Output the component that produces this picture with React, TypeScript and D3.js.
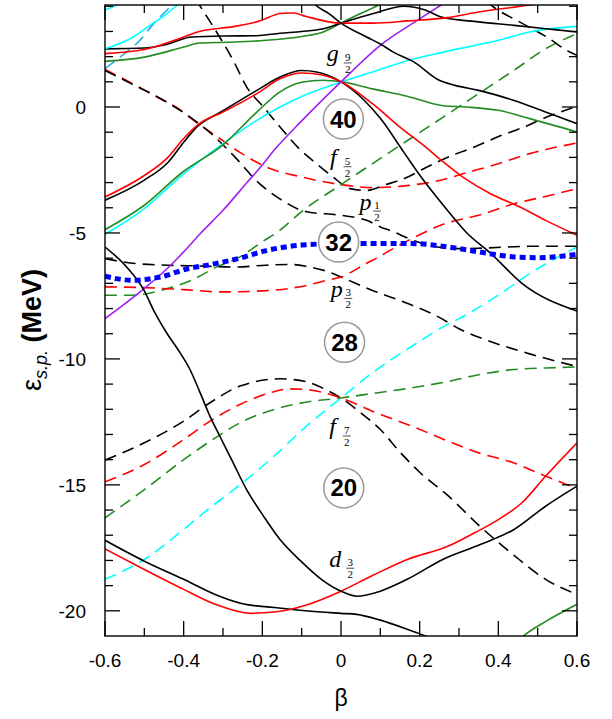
import React from "react"
import * as d3 from "d3"

// Nilsson single-particle levels, each point is [beta, energy in MeV]
// positive parity (solid lines)
const g92Black = [[-0.6,-3.7],[-0.5,-2.9],[-0.44,-2.2],[-0.4,-1.4],[-0.367,-0.8],[-0.3,-0.15],[-0.214,0.66],[-0.155,1.19],[-0.1,1.45],[-0.062,1.39],[0,1.0],[0.057,0.3],[0.1,-0.45],[0.16,-1.8],[0.2,-2.7],[0.26,-3.9],[0.32,-5.0],[0.38,-5.8],[0.46,-7.0],[0.6,-8.1]]
const g92Red = [[-0.6,-3.57],[-0.5,-2.72],[-0.44,-2.0],[-0.4,-1.25],[-0.36,-0.66],[-0.3,-0.2],[-0.214,0.53],[-0.155,1.12],[-0.1,1.35],[-0.045,1.26],[0,1.0],[0.08,0.13],[0.15,-0.8],[0.22,-1.65],[0.25,-2.05],[0.31,-2.78],[0.38,-3.44],[0.455,-3.97],[0.52,-4.5],[0.6,-5.09]]
const g92Green = [[-0.6,-4.87],[-0.5,-3.9],[-0.4,-2.55],[-0.3,-1.5],[-0.214,-0.2],[-0.155,0.6],[-0.1,0.98],[-0.045,1.06],[0,1.0],[0.08,0.72],[0.17,0.42],[0.26,0.05],[0.32,0.0],[0.4,-0.13],[0.48,-0.46],[0.6,-0.99]]
const g92Cyan = [[-0.6,-5.05],[-0.5,-4.03],[-0.4,-2.65],[-0.3,-1.45],[-0.214,-0.53],[-0.155,0.0],[-0.1,0.42],[0,0.99],[0.08,1.39],[0.17,1.85],[0.26,2.18],[0.4,2.65],[0.48,2.98],[0.6,3.2]]
const g92Purple = [[-0.6,-8.4],[-0.5,-7.2],[-0.433,-6.28],[-0.4,-5.75],[-0.358,-5.03],[-0.3,-4.1],[-0.239,-3.0],[-0.2,-2.3],[-0.172,-1.75],[-0.1,-0.55],[0,1.0],[0.1,2.45],[0.2,3.5],[0.28,4.3]]
const d52Black = [[-0.6,2.31],[-0.5,2.34],[-0.44,2.5],[-0.38,2.78],[-0.3,2.82],[-0.214,2.83],[-0.155,2.93],[-0.1,3.0],[-0.045,3.11],[0,3.33],[0.08,3.7],[0.16,4.0],[0.21,3.87],[0.26,3.55],[0.35,3.38],[0.44,3.24],[0.52,3.11],[0.6,2.98]]
const d52Red = [[-0.6,2.12],[-0.5,2.28],[-0.4,2.78],[-0.36,3.0],[-0.27,3.2],[-0.21,3.4],[-0.15,3.72],[-0.12,3.73],[-0.09,3.6],[0,3.33],[0.08,3.33],[0.17,3.42],[0.27,3.55],[0.35,3.77],[0.48,4.05],[0.52,4.15]]
const d52Green = [[-0.6,1.81],[-0.5,1.98],[-0.4,2.38],[-0.36,2.54],[-0.27,2.58],[-0.19,2.65],[-0.1,2.8],[-0.045,2.98],[0,3.33],[0.04,3.64],[0.095,4.05],[0.12,4.3]]
const s12Black = [[-0.08,4.3],[-0.065,4.05],[-0.03,3.7],[0,3.33],[0.065,2.78],[0.1,2.5],[0.133,2.18],[0.184,1.8],[0.25,1.06],[0.29,0.86],[0.35,0.66],[0.44,0.26],[0.52,-0.2],[0.6,-0.66]]
const cyanTop = [[-0.6,2.31],[-0.528,2.78],[-0.486,3.24],[-0.443,3.7],[-0.42,4.0],[-0.4,4.3]]
const cyanCorner = [[-0.6,3.85],[-0.57,4.05],[-0.55,4.2]]
const d32Black = [[-0.6,-17.2],[-0.5,-18.03],[-0.4,-18.75],[-0.32,-19.35],[-0.25,-19.72],[-0.17,-19.87],[-0.09,-20.0],[0,-20.1],[0.04,-20.14],[0.1,-20.37],[0.17,-20.74],[0.22,-21.03],[0.25,-21.2]]
const d32Red = [[-0.6,-17.54],[-0.5,-18.36],[-0.4,-19.15],[-0.32,-19.74],[-0.23,-20.1],[-0.17,-20.05],[-0.13,-19.95],[-0.09,-19.78],[0,-19.22],[0.08,-18.6],[0.17,-17.95],[0.27,-17.45],[0.34,-16.9],[0.4,-16.38],[0.46,-15.71],[0.52,-14.66],[0.6,-13.33]]
const steepBlack = [[-0.6,-5.56],[-0.545,-6.35],[-0.5,-7.3],[-0.477,-8.05],[-0.443,-8.97],[-0.409,-9.76],[-0.384,-10.42],[-0.358,-11.35],[-0.333,-12.28],[-0.308,-13.07],[-0.274,-14.13],[-0.24,-15.19],[-0.197,-16.24],[-0.155,-17.17],[-0.104,-18.0],[-0.05,-18.75],[0,-19.22],[0.04,-19.42],[0.1,-19.22],[0.167,-18.76],[0.26,-17.95],[0.354,-17.37],[0.44,-16.77],[0.52,-15.85],[0.6,-15.05]]
const greenLow = [[0.45,-21.2],[0.464,-21.0],[0.523,-20.4],[0.6,-19.74]]

// negative parity (dashed lines)
const f52Black = [[-0.37,4.3],[-0.358,4.0],[-0.324,3.17],[-0.274,1.85],[-0.24,0.8],[-0.197,0.0],[-0.155,-0.79],[-0.1,-1.75],[-0.07,-2.15],[-0.02,-2.78],[0.023,-3.24],[0.065,-3.31],[0.11,-3.1],[0.17,-2.78],[0.21,-2.45],[0.294,-1.85],[0.345,-1.55],[0.396,-1.2],[0.455,-0.86],[0.523,-0.4],[0.6,0.03]]
const f52Red = [[-0.6,1.49],[-0.53,0.93],[-0.46,0.33],[-0.42,0.0],[-0.36,-0.7],[-0.32,-1.12],[-0.257,-1.8],[-0.19,-2.38],[-0.1,-2.78],[0,-3.08],[0.08,-3.2],[0.167,-3.12],[0.26,-2.88],[0.31,-2.65],[0.4,-2.25],[0.48,-1.85],[0.6,-1.43]]
const f52Green = [[-0.6,-7.47],[-0.53,-7.47],[-0.49,-7.4],[-0.44,-7.2],[-0.38,-6.88],[-0.325,-6.42],[-0.257,-5.95],[-0.2,-5.35],[-0.155,-4.89],[-0.1,-4.15],[0,-3.08],[0.08,-2.25],[0.17,-1.32],[0.26,-0.4],[0.35,0.53],[0.44,1.46],[0.52,2.31],[0.6,2.91]]
const p12Black = [[-0.6,1.45],[-0.53,0.9],[-0.45,0.26],[-0.39,-0.33],[-0.33,-1.06],[-0.27,-1.98],[-0.21,-3.0],[-0.15,-3.7],[-0.09,-4.15],[0,-4.3],[0.065,-4.5],[0.1,-4.76],[0.125,-4.9],[0.19,-5.33],[0.25,-5.57],[0.3,-5.62],[0.36,-5.6],[0.48,-5.53],[0.6,-5.53]]
const p32Black = [[-0.6,-6.02],[-0.53,-6.2],[-0.44,-6.28],[-0.36,-6.31],[-0.27,-6.35],[-0.19,-6.28],[-0.13,-6.25],[-0.087,-6.33],[-0.04,-6.5],[0,-6.75],[0.08,-7.28],[0.17,-7.8],[0.25,-8.35],[0.3,-8.8],[0.37,-9.25],[0.48,-9.8],[0.6,-10.3]]
const p32Red = [[-0.6,-7.14],[-0.5,-7.17],[-0.4,-7.25],[-0.3,-7.34],[-0.2,-7.3],[-0.13,-7.2],[-0.087,-7.08],[-0.036,-6.88],[0,-6.75],[0.065,-6.2],[0.1,-5.92],[0.125,-5.69],[0.19,-5.15],[0.26,-4.65],[0.35,-4.3],[0.44,-3.84],[0.52,-3.55],[0.6,-3.24]]
const f72Black = [[-0.6,-14.02],[-0.5,-13.33],[-0.4,-12.47],[-0.333,-11.74],[-0.257,-11.08],[-0.155,-10.79],[-0.09,-10.9],[-0.036,-11.24],[0,-11.55],[0.05,-12.14],[0.1,-12.8],[0.15,-13.7],[0.2,-14.5],[0.27,-15.4],[0.35,-16.6],[0.44,-17.8],[0.52,-18.75],[0.6,-19.35]]
const f72Red = [[-0.6,-14.88],[-0.5,-14.19],[-0.4,-13.2],[-0.333,-12.47],[-0.257,-11.81],[-0.17,-11.3],[-0.13,-11.19],[-0.087,-11.22],[0,-11.55],[0.09,-12.14],[0.18,-12.67],[0.27,-13.25],[0.35,-13.73],[0.44,-14.13],[0.5,-14.52],[0.6,-15.15]]
const f72Green = [[-0.6,-16.31],[-0.5,-15.19],[-0.4,-14.0],[-0.333,-13.27],[-0.257,-12.54],[-0.155,-11.94],[-0.09,-11.72],[0,-11.55],[0.09,-11.35],[0.18,-11.15],[0.27,-10.9],[0.35,-10.63],[0.44,-10.42],[0.52,-10.36],[0.6,-10.32]]
const f72Cyan = [[-0.6,-18.75],[-0.5,-17.96],[-0.4,-16.77],[-0.333,-15.91],[-0.257,-15.0],[-0.17,-13.86],[-0.09,-12.7],[0,-11.55],[0.08,-10.55],[0.17,-9.6],[0.27,-8.64],[0.3,-8.4],[0.4,-7.47],[0.48,-6.61],[0.6,-5.56]]
const topRightBlack = [[0.37,4.2],[0.388,3.97],[0.455,3.37],[0.523,2.78],[0.574,2.25],[0.6,2.05]]
const skyDash = [[-0.6,1.52],[-0.562,1.98],[-0.511,2.65],[-0.473,3.37],[-0.447,3.77],[-0.43,4.05],[-0.42,4.2]]

// Fermi level
const fermi = [[-0.6,-6.72],[-0.53,-6.88],[-0.46,-6.75],[-0.39,-6.42],[-0.33,-6.25],[-0.257,-6.0],[-0.19,-5.7],[-0.1,-5.48],[0,-5.42],[0.1,-5.42],[0.18,-5.42],[0.27,-5.55],[0.35,-5.75],[0.44,-5.95],[0.5,-5.98],[0.6,-5.85]]

// magic numbers and spherical orbitals
const magic = ["40", "32", "28", "20"]
const magicAt = [[0.006, -0.48], [-0.006, -5.36], [0.009, -9.34], [0.007, -15.12]]
const orbitals = [["g", "9"], ["f", "5"], ["p", "1"], ["p", "3"], ["f", "7"], ["d", "3"]]
const orbitalAt = [[-0.036, 1.81], [-0.028, -2.31], [0.047, -4.07], [-0.026, -7.54], [-0.03, -13.0], [-0.03, -18.25]]

const xTickLabels = ["-0.6", "-0.4", "-0.2", "0", "0.2", "0.4", "0.6"]
const yTickLabels = ["-20", "-15", "-10", "-5", "0"]

const BLACK = "#000000", RED = "#ff0000", GREEN = "#228b22", CYAN = "#00ffff", PURPLE = "#a020f0", SKY = "#2aa6e4"

export default function App() {
  const x = d3.scaleLinear().domain([-0.6, 0.6]).range([105, 577])
  const y = d3.scaleLinear().domain([-21, 4.05]).range([636, 5])
  const line = d3.line<number[]>().x(d => x(d[0])).y(d => y(d[1])).curve(d3.curveMonotoneX)

  const dashed = [
    [f52Black, BLACK], [f52Red, RED], [f52Green, GREEN], [p12Black, BLACK],
    [p32Black, BLACK], [p32Red, RED], [f72Black, BLACK], [f72Red, RED],
    [f72Green, GREEN], [f72Cyan, CYAN], [topRightBlack, BLACK], [skyDash, SKY],
  ] as [number[][], string][]
  const solid = [
    [g92Cyan, CYAN], [g92Green, GREEN], [g92Black, BLACK], [g92Red, RED], [g92Purple, PURPLE],
    [d52Green, GREEN], [d52Black, BLACK], [d52Red, RED], [s12Black, BLACK],
    [cyanTop, CYAN], [cyanCorner, CYAN], [d32Black, BLACK], [d32Red, RED],
    [steepBlack, BLACK], [greenLow, GREEN],
  ] as [number[][], string][]

  const xTicks = d3.range(-6, 7).map(i => i / 10)
  const yTicks = d3.range(-20, 5)
  const [x0, x1] = x.range()
  const [yb, yt] = y.range()
  const font = "'Liberation Sans', Arial, sans-serif"
  const serif = "'Liberation Serif', 'Times New Roman', serif"

  return (
    <svg width={612} height={719} style={{ position: "absolute", left: 0, top: 0, background: "#fff" }}>
      <defs>
        <clipPath id="plot">
          <rect x={x0} y={yt} width={x1 - x0} height={yb - yt} />
        </clipPath>
      </defs>
      <g clipPath="url(#plot)" fill="none">
        {dashed.map(([d, c], i) => (
          <path key={"d" + i} d={line(d) || ""} stroke={c} strokeWidth={1.6} strokeDasharray="12,7" />
        ))}
        {solid.map(([d, c], i) => (
          <path key={"s" + i} d={line(d) || ""} stroke={c} strokeWidth={1.6} />
        ))}
        <path d={line(fermi) || ""} stroke="#0000ff" strokeWidth={5} strokeDasharray="6,4" />
      </g>

      {/* frame and ticks */}
      <rect x={x0} y={yt} width={x1 - x0} height={yb - yt} fill="none" stroke="#000" strokeWidth={1.4} />
      {xTicks.map((t, i) => {
        const len = i % 2 === 0 ? 15 : 8
        return (
          <g key={"xt" + i} stroke="#000" strokeWidth={1.3}>
            <line x1={x(t)} x2={x(t)} y1={yb} y2={yb - len} />
            <line x1={x(t)} x2={x(t)} y1={yt} y2={yt + len} />
          </g>
        )
      })}
      {yTicks.map((t, i) => {
        const len = t % 5 === 0 ? 15 : 8
        return (
          <g key={"yt" + i} stroke="#000" strokeWidth={1.3}>
            <line x1={x0} x2={x0 + len} y1={y(t)} y2={y(t)} />
            <line x1={x1} x2={x1 - len} y1={y(t)} y2={y(t)} />
          </g>
        )
      })}
      {xTickLabels.map((s, i) => (
        <text key={"xl" + i} x={x(-0.6 + i * 0.2)} y={667} textAnchor="middle" fontFamily={font} fontSize={19}>{s}</text>
      ))}
      {yTickLabels.map((s, i) => (
        <text key={"yl" + i} x={86} y={y(-20 + i * 5) + 7} textAnchor="end" fontFamily={font} fontSize={19}>{s}</text>
      ))}

      {/* axis titles */}
      <text x={341} y={706} textAnchor="middle" fontFamily={font} fontSize={23}>β</text>
      <text transform="translate(41,391) rotate(-90)" fontFamily={font} fontSize={27} fontWeight="bold">
        <tspan fontWeight="normal">ε</tspan>
        <tspan fontSize={18} fontStyle="italic" fontWeight="normal" dy={6}>s.p.</tspan>
        <tspan dy={-6}> (MeV)</tspan>
      </text>

      {/* orbital labels */}
      {orbitals.map(([l, num], i) => {
        const px = x(orbitalAt[i][0])
        const py = y(orbitalAt[i][1])
        const fx = px + (l === "g" || l === "d" ? 21 : 17.5)
        return (
          <g key={"o" + i} fontFamily={serif}>
            <text x={px} y={py} fontSize={24} fontStyle="italic">{l}</text>
            <text x={fx} y={py - 0.5} fontSize={11} textAnchor="middle">{num}</text>
            <line x1={fx - 4} x2={fx + 4} y1={py + 1.5} y2={py + 1.5} stroke="#000" strokeWidth={0.7} />
            <text x={fx} y={py + 11.5} fontSize={11} textAnchor="middle">2</text>
          </g>
        )
      })}

      {/* magic numbers */}
      {magic.map((m, i) => {
        const cx = x(magicAt[i][0])
        const cy = y(magicAt[i][1])
        return (
          <g key={"m" + i}>
            <circle cx={cx} cy={cy} r={20} fill="#fff" stroke="#999" strokeWidth={1.5} />
            <text x={cx} y={cy + 8.5} textAnchor="middle" fontFamily={font} fontWeight="bold" fontSize={24}>{m}</text>
          </g>
        )
      })}
    </svg>
  )
}
